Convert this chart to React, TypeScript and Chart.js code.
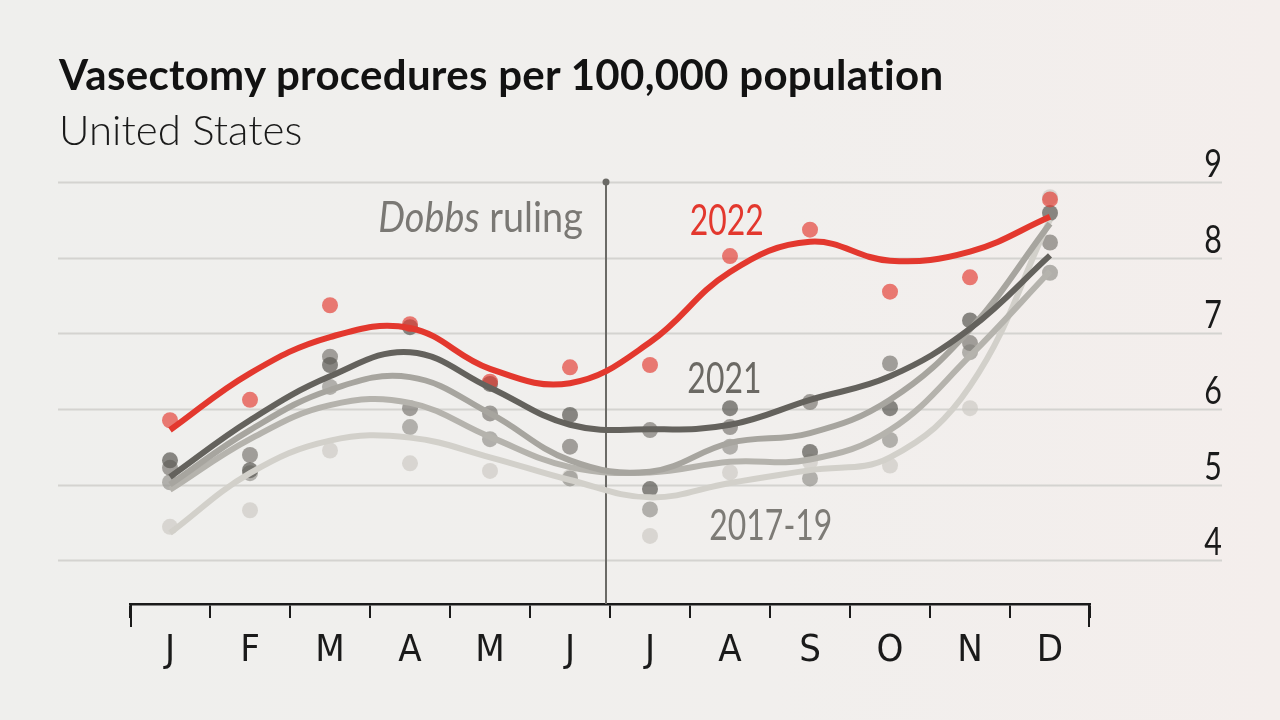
import React, { useEffect, useRef } from "react";
import { Chart, registerables } from "chart.js";

Chart.register(...registerables);

// ---- data ----
const months = ["J", "F", "M", "A", "M", "J", "J", "A", "S", "O", "N", "D"];
const yTicks = [4, 5, 6, 7, 8, 9];

// smoothed trend lines
const trend2022 = [5.72, 6.47, 6.95, 7.07, 6.53, 6.34, 6.88, 7.81, 8.21, 7.96, 8.08, 8.54];
const trend2021 = [5.1, 5.85, 6.43, 6.75, 6.28, 5.79, 5.73, 5.79, 6.12, 6.43, 7.06, 8.03];
const trend2019 = [5.0, 5.72, 6.25, 6.42, 5.94, 5.32, 5.17, 5.55, 5.68, 6.12, 7.05, 8.45];
const trend2018 = [4.93, 5.6, 6.05, 6.08, 5.63, 5.23, 5.16, 5.3, 5.33, 5.72, 6.7, 7.82];
const trend2017 = [4.36, 5.15, 5.58, 5.62, 5.36, 5.06, 4.83, 5.02, 5.19, 5.36, 6.3, 8.5];

// monthly observations (dots)
const dots2022 = [5.85, 6.12, 7.37, 7.12, 6.36, 6.55, 6.58, 8.02, 8.37, 7.55, 7.74, 8.77];
const dots2021 = [5.32, 5.19, 6.58, 7.08, 6.33, 5.92, 4.94, 6.01, 5.43, 6.01, 7.17, 8.59];
const dots2019 = [5.22, 5.39, 6.69, 6.01, 5.94, 5.5, 5.72, 5.76, 6.09, 6.6, 6.87, 8.2];
const dots2018 = [5.03, 5.15, 6.29, 5.76, 5.6, 5.08, 4.67, 5.5, 5.08, 5.59, 6.75, 7.8];
const dots2017 = [4.44, 4.66, 5.45, 5.28, 5.18, 5.1, 4.32, 5.16, 5.3, 5.25, 6.01, 8.8];

// Dobbs ruling position (month index) and annotation labels (baseline positions)
const dobbsX = 5.45;
const dobbsLabel = { x: 5.16, y: 8.34 };
const seriesLabels = [
  { text: "2022", x: 6.96, y: 8.3, color: "#e3382e" },
  { text: "2021", x: 6.93, y: 6.21, color: "#6b6964" },
  { text: "2017-19", x: 7.51, y: 4.26, color: "#7d7b76" },
];

const NARROW = '"Liberation Sans Narrow", "DejaVu Sans Condensed", sans-serif';
const LATO = "Lato, sans-serif";

function drawScaled(ctx: CanvasRenderingContext2D, text: string, x: number, y: number, sx: number, align: CanvasTextAlign) {
  ctx.save();
  ctx.translate(x, y);
  ctx.scale(sx, 1);
  ctx.textAlign = align;
  ctx.textBaseline = "alphabetic";
  ctx.fillText(text, 0, 0);
  ctx.restore();
}

const bgPlugin = {
  id: "bgGrid",
  beforeDatasetsDraw(chart: any) {
    const { ctx, scales } = chart;
    const y = scales.y;
    const x = scales.x;
    ctx.save();
    ctx.strokeStyle = "#d4d3d0";
    ctx.lineWidth = 2;
    ctx.fillStyle = "#1a1a1a";
    ctx.font = `38px ${LATO}`;
    for (const v of yTicks) {
      const py = Math.round(y.getPixelForValue(v)) + 0.5;
      ctx.beginPath();
      ctx.moveTo(58, py);
      ctx.lineTo(1222, py);
      ctx.stroke();
      drawScaled(ctx, String(v), 1222, py - 6, 0.8, "right");
    }
    // Dobbs line
    const dx = x.getPixelForValue(dobbsX);
    const top = y.getPixelForValue(9);
    ctx.strokeStyle = "#6b6a66";
    ctx.lineWidth = 2;
    ctx.beginPath();
    ctx.moveTo(dx, top);
    ctx.lineTo(dx, chart.chartArea.bottom);
    ctx.stroke();
    ctx.fillStyle = "#6b6a66";
    ctx.beginPath();
    ctx.arc(dx, top, 3.5, 0, Math.PI * 2);
    ctx.fill();
    // Dobbs label
    const sx = 0.9;
    ctx.fillStyle = "#7a7874";
    const ly = y.getPixelForValue(dobbsLabel.y);
    const rx = x.getPixelForValue(dobbsLabel.x);
    ctx.font = `400 42px ${LATO}`;
    const w2 = ctx.measureText(" ruling").width * sx;
    ctx.font = `italic 400 42px ${LATO}`;
    const w1 = ctx.measureText("Dobbs").width * sx;
    drawScaled(ctx, "Dobbs", rx - w1 - w2, ly, sx, "left");
    ctx.font = `400 42px ${LATO}`;
    drawScaled(ctx, " ruling", rx - w2, ly, sx, "left");
    ctx.restore();
  },
  afterDraw(chart: any) {
    const { ctx, chartArea, scales } = chart;
    ctx.save();
    ctx.strokeStyle = "#1a1a1a";
    ctx.lineWidth = 2;
    for (const px of [chartArea.left + 1, chartArea.right - 1]) {
      ctx.beginPath();
      ctx.moveTo(px, chartArea.bottom);
      ctx.lineTo(px, chartArea.bottom + 23);
      ctx.stroke();
    }
    ctx.font = `42px ${LATO}`;
    for (const l of seriesLabels) {
      ctx.fillStyle = l.color;
      drawScaled(ctx, l.text, scales.x.getPixelForValue(l.x), scales.y.getPixelForValue(l.y), 0.76, "center");
    }
    ctx.restore();
  },
};

function lineDs(label: string, data: number[], color: string) {
  return {
    label,
    data,
    borderColor: color,
    borderWidth: 6,
    tension: 0.4,
    pointRadius: 0,
    fill: false,
    borderCapStyle: "butt" as const,
  };
}

function dotDs(label: string, data: number[], color: string) {
  return {
    label,
    data,
    showLine: false,
    pointRadius: 8,
    pointBorderWidth: 0,
    pointBackgroundColor: color,
    borderColor: color,
  };
}

export default function App() {
  const ref = useRef<HTMLCanvasElement>(null);
  useEffect(() => {
    if (!ref.current) return;
    const chart = new Chart(ref.current, {
      type: "line",
      data: {
        labels: months,
        datasets: [
          lineDs("2022", trend2022, "#e3382e"),
          lineDs("2021", trend2021, "#64625d"),
          lineDs("2019", trend2019, "#a7a59f"),
          lineDs("2018", trend2018, "#b5b3ad"),
          lineDs("2017", trend2017, "#d2d0ca"),
          dotDs("2022 obs", dots2022, "rgba(227,56,46,0.65)"),
          dotDs("2021 obs", dots2021, "rgba(90,88,83,0.7)"),
          dotDs("2019 obs", dots2019, "rgba(125,123,117,0.7)"),
          dotDs("2018 obs", dots2018, "rgba(150,148,142,0.7)"),
          dotDs("2017 obs", dots2017, "rgba(205,203,197,0.7)"),
        ] as any,
      },
      options: {
        animation: false,
        responsive: false,
        maintainAspectRatio: false,
        layout: { padding: { left: 130, right: 190, top: 182, bottom: 0 } },
        plugins: {
          legend: { display: false },
          tooltip: { enabled: false },
        },
        scales: {
          x: {
            type: "category",
            offset: true,
            grid: {
              offset: true,
              drawOnChartArea: false,
              drawTicks: true,
              tickLength: 14,
              color: "#1a1a1a",
              lineWidth: 2,
            },
            border: { display: true, color: "#1a1a1a", width: 2.5 },
            ticks: {
              color: "#1a1a1a",
              font: { family: NARROW, size: 38 },
              padding: 10,
              maxRotation: 0,
              autoSkip: false,
            },
            afterFit: (s: any) => {
              s.height = 116;
            },
          },
          y: { display: false, min: 3.42, max: 9 },
        },
      },
      plugins: [bgPlugin],
    });
    return () => chart.destroy();
  }, []);

  return (
    <div
      style={{
        position: "absolute",
        left: 0,
        top: 0,
        width: 1280,
        height: 720,
        overflow: "hidden",
        background: "linear-gradient(90deg, #efefed 0%, #f1efed 60%, #f4eeec 100%)",
      }}
    >
      <canvas ref={ref} width={1280} height={720} style={{ position: "absolute", left: 0, top: 0 }} />
      <div
        style={{
          position: "absolute",
          left: 59,
          top: 50,
          fontFamily: LATO,
          fontWeight: 700,
          fontSize: 42,
          lineHeight: "48px",
          color: "#121212",
          whiteSpace: "nowrap",
          letterSpacing: 0.3,
        }}
      >
        Vasectomy procedures per 100,000 population
      </div>
      <div
        style={{
          position: "absolute",
          left: 59,
          top: 105,
          fontFamily: LATO,
          fontWeight: 300,
          fontSize: 42,
          lineHeight: "48px",
          color: "#1a1a1a",
          whiteSpace: "nowrap",
        }}
      >
        United States
      </div>
    </div>
  );
}
